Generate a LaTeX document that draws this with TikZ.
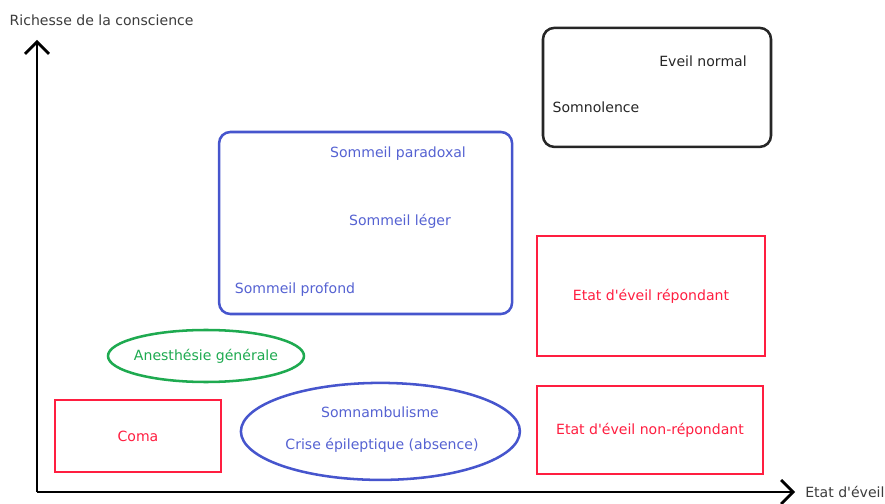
\documentclass[tikz,border=0pt]{standalone}
\usepackage{fontspec}
\setmainfont{DejaVu Sans}
\usetikzlibrary{arrows.meta,positioning,shapes.geometric}

\definecolor{etatred}{RGB}{255,30,64}
\definecolor{sleepblue}{RGB}{70,85,205}
\definecolor{sleeptxt}{RGB}{85,98,210}
\definecolor{anesgreen}{RGB}{30,170,80}
\definecolor{axistxt}{RGB}{60,60,60}

\begin{document}
\begin{tikzpicture}[
  zone/.style={draw, rectangle, line width=1.8pt, align=center, font=\fontsize{10}{12}\selectfont},
  rzone/.style={zone, rounded corners=8pt},
  ezone/.style={draw, ellipse, line width=1.8pt, inner sep=0pt},
  txt/.style={font=\fontsize{10}{12}\selectfont, inner sep=0pt},
  ax/.style={-{Straight Barb[length=3mm,width=6mm]}, line width=2pt},
]
\useasboundingbox (0,0) rectangle (22.125,12.575);

%==== Axes ====
\coordinate (o)  at (0.925, 0.275);
\coordinate (yt) at (0.925, 11.575);
\coordinate (xt) at (19.875, 0.275);
\draw[ax] (o) -- (yt);
\draw[ax] (o) -- (xt);
\node[txt, text=axistxt] (ylab) at (2.54, 12.075) {Richesse de la conscience};
\node[txt, text=axistxt, anchor=west] (xlab) at (20.125, 0.275) {Etat d\textquotesingle éveil};

%==== Eveil ====
\node[rzone, draw=black!85, minimum width=5.7cm, minimum height=2.975cm] (eveil) at (16.425, 10.39) {};
\node[txt, text=black!85] (normal) at (17.575, 11.05) {Eveil normal};
\node[txt, text=black!85] (somno)  at (14.9, 9.9) {Somnolence};

%==== Sommeil ====
\node[rzone, draw=sleepblue, minimum width=7.325cm, minimum height=4.55cm] (sommeil) at (9.14, 7.0) {};
\node[txt, text=sleeptxt] (parad)   at (9.95, 8.725) {Sommeil paradoxal};
\node[txt, text=sleeptxt] (leger)   at (10.0, 7.05) {Sommeil léger};
\node[txt, text=sleeptxt] (profond) at (7.375, 5.325) {Sommeil profond};

%==== Etats d'eveil ====
\node[zone, draw=etatred, text=etatred, minimum width=5.7cm, minimum height=3.0cm] (rep) at (16.275, 5.175) {Etat d\textquotesingle éveil répondant};
\node[zone, draw=etatred, text=etatred, minimum width=5.65cm, minimum height=2.2cm] (nonrep) at (16.25, 1.825) {Etat d\textquotesingle éveil non-répondant};

%==== Bas gauche ====
\node[ezone, draw=anesgreen, minimum width=4.9cm, minimum height=1.3cm] (anes) at (5.15, 3.675) {};
\node[txt, text=anesgreen] (anestxt) at (5.15, 3.675) {Anesthésie générale};
\node[zone, draw=etatred, text=etatred, minimum width=4.15cm, minimum height=1.8cm] (coma) at (3.45, 1.675) {Coma};
\node[ezone, draw=sleepblue, minimum width=6.975cm, minimum height=2.425cm] (somnam) at (9.51, 1.79) {};
\node[txt, text=sleeptxt] (somnamb) at (9.5, 2.275) {Somnambulisme};
\node[txt, text=sleeptxt] (crise)   at (9.55, 1.45) {Crise épileptique (absence)};

\end{tikzpicture}
\end{document}
